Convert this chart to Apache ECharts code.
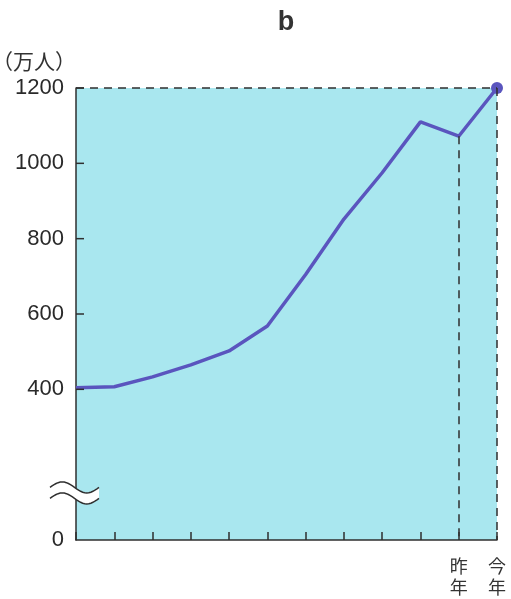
<!DOCTYPE html>
<html><head><meta charset="utf-8">
<script src="https://cdn.jsdelivr.net/npm/echarts@6/dist/echarts.min.js"></script>
<style>html,body{margin:0;padding:0;background:#fff}#c{width:511px;height:599px}</style>
</head><body><div id="c"></div>
<script>
const categories = ['', '', '', '', '', '', '', '', '', '', '昨\n年', '今\n年'];
const visitors = [404, 407, 433, 465, 502, 568, 705, 852, 975, 1110, 1072, 1200];
const yTickLabels = [0, 400, 600, 800, 1000, 1200];
const title = 'b';
const unitLabel = '（万人）';

const chart = echarts.init(document.getElementById('c'));
const last = visitors.length - 1;
const dark = '#2f2f2f';
chart.setOption({
  animation: false,
  title: { text: title, left: 281, top: 4, textAlign: 'center',
    textStyle: { fontFamily: 'Liberation Sans', fontWeight: 'bold', fontSize: 27, color: '#333' } },
  grid: { left: 76, right: 14, top: 88, bottom: 59, show: true, backgroundColor: '#a9e7ef', borderWidth: 0,
    containLabel: false, outerBoundsMode: 'none' },
  xAxis: {
    type: 'category', data: categories, boundaryGap: false,
    axisLine: { lineStyle: { color: dark, width: 1.5 } },
    axisTick: { inside: true, length: 8, interval: 0, lineStyle: { color: dark, width: 1.5 } },
    axisLabel: { interval: 0, margin: 16, fontSize: 18, lineHeight: 21, color: '#333',
      fontFamily: 'Noto Sans CJK JP' },
    splitLine: { show: false }
  },
  yAxis: {
    type: 'value', min: 0, max: 1200, interval: 200,
    name: unitLabel, nameLocation: 'end', nameGap: 16,
    nameTextStyle: { fontFamily: 'Noto Sans CJK JP', fontSize: 21, color: '#333', align: 'right', padding: [0, 0, 0, 0] },
    axisLine: { show: true, lineStyle: { color: dark, width: 1.5 } },
    axisTick: { show: false },
    axisLabel: { fontSize: 22, color: '#2a2a2a', margin: 12, fontFamily: 'Liberation Sans',
      formatter: v => yTickLabels.indexOf(v) >= 0 ? String(v) : '' },
    splitLine: { show: false }
  },
  series: [{
    type: 'line', data: visitors, smooth: false,
    lineStyle: { color: '#5a55be', width: 3.5 },
    symbol: 'circle', symbolSize: (v, p) => p.dataIndex === last ? 12 : 0,
    showSymbol: true,
    itemStyle: { color: '#5a55be' },
    z: 3,
    markLine: {
      silent: true, symbol: 'none', animation: false,
      lineStyle: { color: dark, type: [8, 6], width: 1.5 },
      label: { show: false },
      data: [
        [{ coord: [0, 1200] }, { coord: [last, 1200] }],
        [{ coord: [last, 1200] }, { coord: [last, 0] }],
        [{ coord: [last - 1, visitors[last - 1]] }, { coord: [last - 1, 0] }]
      ]
    }
  }]
});

const gfx = [];
// inward y-axis ticks
yTickLabels.forEach(v => {
  if (v === 0) return;
  const p = chart.convertToPixel({ gridIndex: 0 }, [0, v]);
  gfx.push({ type: 'line', shape: { x1: p[0], y1: p[1], x2: p[0] + 8, y2: p[1] },
    style: { stroke: dark, lineWidth: 1.5 }, z: 10 });
});
// axis break symbol
const bp = chart.convertToPixel({ gridIndex: 0 }, [0, 125]);
const bx0 = bp[0] - 26, bx1 = bp[0] + 23, byc = bp[1];
const N = 24;
const waveY = t => -Math.sin(t * 2 * Math.PI) * 5.5;
const upper = [], lower = [];
for (let i = 0; i <= N; i++) {
  const t = i / N, x = bx0 + (bx1 - bx0) * t;
  upper.push([x, byc - 5.5 + waveY(t)]);
  lower.push([x, byc + 5.5 + waveY(t)]);
}
gfx.push({ type: 'polygon', shape: { points: upper.concat(lower.slice().reverse()) },
  style: { fill: '#fff' }, z: 20 });
gfx.push({ type: 'polyline', shape: { points: upper }, style: { fill: null, stroke: dark, lineWidth: 1.5 }, z: 21 });
gfx.push({ type: 'polyline', shape: { points: lower }, style: { fill: null, stroke: dark, lineWidth: 1.5 }, z: 21 });
chart.setOption({ graphic: gfx });
</script></body></html>
